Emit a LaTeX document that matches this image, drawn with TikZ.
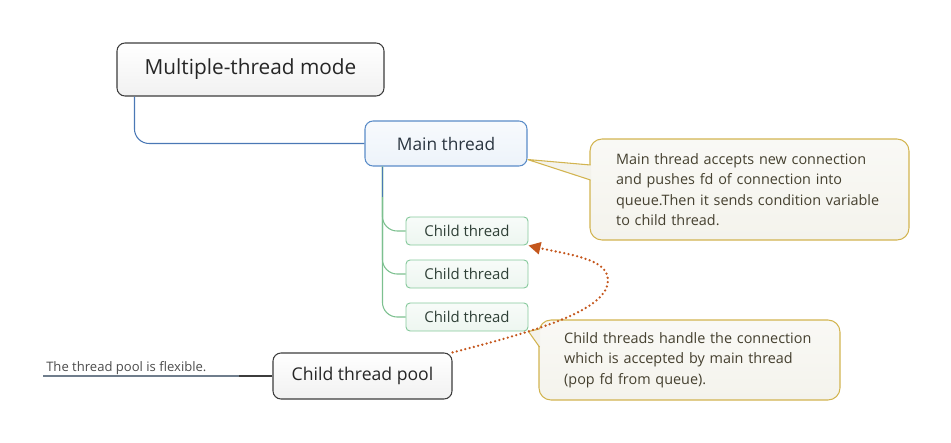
\documentclass[tikz,border=0pt]{standalone}
\usepackage{fontspec}
\setmainfont{Open Sans}
\usetikzlibrary{arrows.meta}

\definecolor{rootline}{HTML}{3C3C3C}
\definecolor{rootfill}{HTML}{F1F1F1}
\definecolor{roottext}{HTML}{262626}
\definecolor{mainline}{HTML}{5A8CC8}
\definecolor{mainfill}{HTML}{EDF3FA}
\definecolor{maintext}{HTML}{2A3540}
\definecolor{bluelink}{HTML}{4A78B5}
\definecolor{childline}{HTML}{86C99C}
\definecolor{childfill}{HTML}{EDF6F0}
\definecolor{childtext}{HTML}{2F4037}
\definecolor{greenlink}{HTML}{7CC08F}
\definecolor{noteline}{HTML}{D2B450}
\definecolor{notefill}{HTML}{F4F3EC}
\definecolor{notetext}{HTML}{45402F}
\definecolor{dotarrow}{HTML}{C4561C}
\definecolor{flexline}{HTML}{6F7D8C}

\begin{document}
\begin{tikzpicture}[%
        x = 0.75pt, y = -0.75pt,
        topic/.style = {draw=rootline, line width=0.8pt, rounded corners=6pt,
            top color=white, bottom color=rootfill, text=roottext},
        mainbox/.style = {draw=mainline, line width=0.8pt, rounded corners=6pt,
            top color=mainfill!40, bottom color=mainfill, text=maintext},
        childbox/.style = {draw=childline, line width=0.7pt, rounded corners=3pt,
            top color=childfill!40, bottom color=childfill, text=childtext,
            minimum width=91.5pt, minimum height=21pt, inner sep=0pt,
            font=\fontsize{11.2}{13}\selectfont},
        callout/.style = {draw=noteline, line width=0.8pt, rounded corners=9pt,
            top color=notefill!50, bottom color=notefill, text=notetext,
            align=left, font=\fontsize{10.8}{15.3}\selectfont},
        link/.style = {line width=0.8pt, rounded corners=11pt}
    ]
    \useasboundingbox (0,0) rectangle (951,443);

    \node[topic, minimum width=200.25pt, minimum height=39.75pt,
        font=\fontsize{15.6}{18}\selectfont] (root) at (250.5,69.5) {Multiple-thread mode};
    \node[mainbox, minimum width=121.5pt, minimum height=33.75pt,
        font=\fontsize{13}{15}\selectfont] (main) at (446,143.5) {Main thread};
    \node[childbox] (child1) at (467,231) {Child thread};
    \node[childbox] (child2) at (467,274) {Child thread};
    \node[childbox] (child3) at (467,317) {Child thread};
    \node[topic, minimum width=134.25pt, minimum height=34.5pt,
        font=\fontsize{13.2}{15}\selectfont] (pool) at (362.5,376) {Child thread pool};

    % branches
    \draw[link, bluelink] ([xshift=13.5pt]root.south west) |- (main.west);
    \draw[link, greenlink] ([xshift=13.5pt]main.south west) |- (child1.west);
    \draw[link, greenlink] ([xshift=13.5pt]main.south west) |- (child2.west);
    \draw[link, greenlink] ([xshift=13.5pt]main.south west) |- (child3.west);
    \draw[line width=0.8pt, bluelink] ([xshift=13.5pt]main.south west) -- ++(0,30);

    % flexible pool note
    \coordinate (flexend) at (43,376);
    \draw[line width=0.8pt, flexline] (pool.west) -- (flexend);
    \draw[line width=0.8pt, rootline] (pool.west) -- ++(-33,0);
    \node[anchor=base west, inner sep=0pt, text=black!70,
        font=\fontsize{9.8}{11}\selectfont] (flex) at (46,371) {The thread pool is flexible.};

    % callouts
    \node[callout, minimum width=239.25pt, minimum height=75.75pt, text width=200pt]
        (mainnote) at (749.5,189.5) {Main thread accepts new connection\\
        and pushes fd of connection into\\
        queue.Then it sends condition variable\\
        to child thread.};
    \fill[notefill] (main.east |- 0,159.5) -- (591,165) -- (591,180) -- cycle;
    \draw[noteline, line width=0.8pt] (main.east |- 0,159.5) -- (590.5,165)
        (main.east |- 0,159.5) -- (590.5,180);

    \node[callout, minimum width=225.75pt, minimum height=60pt, text width=188pt]
        (childnote) at (689.5,360) {Child threads handle the connection\\
        which is accepted by main thread\\
        (pop fd from queue).};
    \fill[notefill] (child3.south east) -- (540,329) -- (540,347) -- cycle;
    \draw[noteline, line width=0.8pt] (child3.south east) -- (539.5,329)
        (child3.south east) -- (539.5,347);

    % dotted link
    \draw[dotarrow, line width=1.9pt, line cap=round, dash pattern=on 0pt off 3.3pt,
        -{Triangle[length=9pt, width=9pt]}]
        (pool.north east) .. controls (540,330) and (608,310) .. (608,280)
        .. controls (608,258) and (565,254) .. (child1.south east);
    \end{tikzpicture}
\end{document}
